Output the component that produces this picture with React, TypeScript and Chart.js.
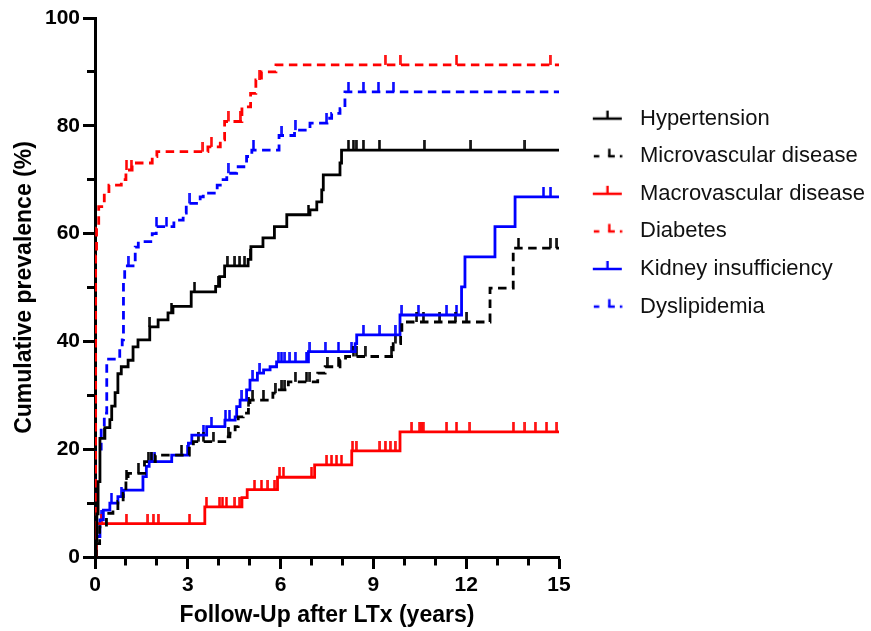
import React, { useEffect, useRef } from 'react';
import { Chart, registerables } from 'chart.js';

Chart.register(...registerables);

// ---------- data ----------
const seriesNames = [
  'Hypertension',
  'Microvascular disease',
  'Macrovascular disease',
  'Diabetes',
  'Kidney insufficiency',
  'Dyslipidemia',
];

const hypertensionTimes = [0, 0.03, 0.06, 0.1, 0.16, 0.32, 0.48, 0.54, 0.65, 0.74, 0.85, 1.07, 1.23, 1.39, 1.77, 2.04, 2.36, 2.52, 3.11, 3.9, 4.03, 4.19, 4.95, 5.04, 5.43, 5.8, 6.2, 6.95, 7.17, 7.33, 7.38, 7.92, 7.97, 15];
const hypertensionValues = [0, 3, 8, 14, 22, 24, 25.5, 28, 30.5, 34, 35.3, 36.5, 39, 40.3, 42.7, 44, 45.3, 46.5, 49.2, 50.2, 52, 54, 55.2, 57.6, 59.2, 61.3, 63.5, 64.4, 65.9, 68.1, 70.9, 73.1, 75.5, 75.5];
const hypertensionCensor = [0.3, 1.77, 2.47, 3.22, 3.98, 4.27, 4.52, 4.68, 4.84, 5.02, 6.9, 8.19, 8.35, 8.44, 8.67, 9.19, 10.64, 12.15, 13.9];

const microTimes = [0, 0.04, 0.15, 0.37, 0.58, 0.74, 0.91, 1.0, 1.07, 1.6, 1.95, 3.05, 3.18, 4.26, 4.36, 4.53, 4.63, 4.79, 4.96, 5.01, 5.75, 5.87, 6.25, 7.2, 7.44, 7.92, 8.1, 9.64, 9.88, 9.92, 12.77, 13.52, 15];
const microValues = [0, 2.5, 5.6, 8.1, 9, 10.3, 11.8, 14.3, 15.5, 17.7, 18.9, 20.5, 21.4, 22.3, 23, 24.2, 26, 26.7, 27.9, 29.1, 30.4, 31, 32.5, 34.1, 35.3, 36.5, 37.2, 39.6, 41.5, 43.6, 49.9, 57.3, 57.3];
const microCensor = [1.02, 1.4, 1.72, 1.82, 2.8, 3.33, 3.5, 3.82, 4.3, 4.97, 5.1, 5.44, 5.82, 6.04, 6.14, 6.47, 6.84, 6.95, 7.5, 7.87, 8.35, 8.46, 8.73, 9.59, 9.7, 10.4, 10.61, 11.15, 11.64, 12.02, 13.69, 14.71, 14.93];

const macroTimes = [0, 0.05, 3.55, 4.75, 4.92, 5.9, 7.1, 8.3, 9.86, 15];
const macroValues = [0, 6.2, 9.3, 11, 12.5, 14.8, 17.1, 19.7, 23.2, 23.2];
const macroCensor = [0.22, 1.01, 1.71, 1.88, 2.04, 3.06, 3.6, 4.03, 4.12, 4.25, 4.52, 4.68, 5.16, 5.38, 5.59, 5.81, 5.97, 6.09, 7.0, 7.49, 7.65, 7.81, 7.97, 8.33, 8.44, 9.21, 9.38, 9.54, 9.7, 10.24, 10.5, 10.56, 10.61, 11.37, 11.69, 12.12, 13.52, 13.9, 14.23, 14.6, 14.93];

const diabetesTimes = [0, 0.02, 0.05, 0.12, 0.3, 0.45, 0.85, 1.0, 1.2, 1.85, 2.0, 3.65, 4.05, 4.19, 4.75, 5.03, 5.2, 5.38, 5.85, 15];
const diabetesValues = [0, 56, 61, 65, 67.5, 69, 70, 71.8, 73.1, 74.3, 75.2, 76.1, 77.4, 80.8, 83.5, 86, 88.5, 90, 91.3, 91.3];
const diabetesCensor = [1.02, 1.17, 3.49, 3.76, 4.3, 4.69, 5.33, 9.38, 9.86, 11.69, 14.71];

const kidneyTimes = [0, 0.03, 0.16, 0.27, 0.48, 0.74, 0.92, 1.55, 1.66, 1.75, 2.48, 3.02, 3.13, 3.61, 4.2, 4.53, 4.58, 4.69, 4.9, 5.01, 5.25, 5.45, 5.66, 5.87, 6.9, 8.41, 8.46, 9.86, 11.85, 11.96, 12.93, 13.58, 15];
const kidneyValues = [0, 3.8, 6.9, 8.7, 10, 11.2, 12.4, 14.9, 16.8, 17.7, 18.9, 21.1, 22.6, 24.2, 25.4, 26, 27.9, 29.1, 31, 32.8, 34.1, 34.7, 35.3, 36.2, 38.1, 39.6, 41.2, 44.9, 50.1, 55.7, 61.3, 66.8, 66.8];
const kidneyCensor = [0.22, 0.53, 0.85, 1.82, 1.93, 3.0, 3.5, 3.76, 4.22, 4.35, 4.75, 5.1, 5.33, 5.92, 6.03, 6.14, 6.3, 6.47, 6.84, 6.95, 7.44, 7.87, 8.3, 8.67, 9.21, 9.7, 9.92, 10.45, 11.37, 11.69, 14.5, 14.73];

const dyslipTimes = [0, 0.01, 0.2, 0.3, 0.38, 0.8, 0.88, 0.92, 0.96, 1.3, 1.4, 1.85, 1.98, 2.55, 2.85, 2.95, 3.4, 3.5, 3.95, 4.05, 4.26, 4.58, 4.9, 5.07, 5.95, 6.45, 6.95, 7.5, 7.65, 7.92, 8.08, 15];
const dyslipValues = [0, 20, 24.2, 26.7, 36.7, 39, 40.3, 51.4, 54, 57.5, 58.5, 60, 61.3, 62.5, 63.8, 65.6, 66.8, 67.5, 69, 70, 71.2, 72.4, 74.3, 75.5, 78.2, 79.2, 80.5, 81.4, 82.3, 83.2, 86.3, 86.3];
const dyslipCensor = [1.07, 1.99, 2.31, 3.07, 4.3, 5.12, 6.04, 6.47, 7.49, 8.19, 8.67, 9.16, 9.64];

const xMajorTicks = [0, 3, 6, 9, 12, 15];
const yMajorTicks = [0, 20, 40, 60, 80, 100];
const xTitle = 'Follow-Up after LTx (years)';
const yTitle = 'Cumulative prevalence (%)';

// ---------- styles ----------
const RED = '#ff0000';
const BLUE = '#0000ff';
const BLACK = '#000000';
const FONT = "'Liberation Sans', Arial, Helvetica, sans-serif";

const seriesTimes = [hypertensionTimes, microTimes, macroTimes, diabetesTimes, kidneyTimes, dyslipTimes];
const seriesValues = [hypertensionValues, microValues, macroValues, diabetesValues, kidneyValues, dyslipValues];
const seriesCensor = [hypertensionCensor, microCensor, macroCensor, diabetesCensor, kidneyCensor, dyslipCensor];
const seriesColors = [BLACK, BLACK, RED, RED, BLUE, BLUE];
const seriesDashed = [false, true, false, true, false, true];

function stepValueAt(times: number[], values: number[], t: number) {
  let v = values[0];
  for (let i = 0; i < times.length; i++) {
    if (times[i] <= t) v = values[i];
  }
  return v;
}

function makeCensorTick(color: string) {
  const c = document.createElement('canvas');
  c.width = 3;
  c.height = 20;
  const g = c.getContext('2d')!;
  g.fillStyle = color;
  g.fillRect(0.25, 0, 2.5, 10);
  return c;
}

function makeLegendSymbol(color: string, dashed: boolean) {
  const c = document.createElement('canvas');
  c.width = 42;
  c.height = 20;
  const g = c.getContext('2d')!;
  g.fillStyle = color;
  const x0 = 12;
  if (!dashed) {
    g.fillRect(x0, 8.75, 29, 2.5);
    g.fillRect(x0 + 13.5, 2, 2.4, 8);
  } else {
    g.fillRect(x0 + 1, 8.75, 5.5, 2.5);
    g.fillRect(x0 + 15.3, 8.75, 6.7, 2.5);
    g.fillRect(x0 + 15.3, 2.5, 2.4, 7.5);
    g.fillRect(x0 + 27, 8.75, 2.4, 2.5);
  }
  return c;
}

export default function App() {
  const ref = useRef<HTMLCanvasElement>(null);

  useEffect(() => {
    const canvas = ref.current;
    if (!canvas) return;

    const lineSets = seriesNames.map((name, s) => ({
      label: name,
      data: seriesTimes[s].map((t, i) => ({ x: t, y: seriesValues[s][i] })),
      borderColor: seriesColors[s],
      backgroundColor: seriesColors[s],
      borderWidth: 2.8,
      borderDash: seriesDashed[s] ? [8.5, 5.5] : [],
      stepped: true,
      fill: false,
      tension: 0,
      pointRadius: 0,
      pointHoverRadius: 0,
      pointStyle: makeLegendSymbol(seriesColors[s], seriesDashed[s]),
      borderCapStyle: 'butt',
      borderJoinStyle: 'miter',
    }));

    const censorSets = seriesNames.map((name, s) => ({
      label: name + ' (censored)',
      data: seriesCensor[s].map((t) => ({ x: t, y: stepValueAt(seriesTimes[s], seriesValues[s], t) })),
      showLine: false,
      borderColor: seriesColors[s],
      backgroundColor: seriesColors[s],
      pointRadius: 5,
      pointHoverRadius: 5,
      pointStyle: makeCensorTick(seriesColors[s]),
    }));

    const lineCount = lineSets.length;

    const chart = new Chart(canvas, {
      type: 'line',
      data: { datasets: [...lineSets, ...censorSets] as any },
      options: {
        animation: false,
        responsive: false,
        devicePixelRatio: 1,
        events: [],
        layout: { padding: { top: 18, left: 0, right: 0, bottom: 0 } },
        font: { family: FONT },
        plugins: {
          tooltip: { enabled: false },
          legend: {
            display: true,
            position: 'right',
            align: 'start',
            maxWidth: 312,
            title: {
              display: true,
              text: '',
              font: { size: 10, family: FONT },
              padding: { top: 62, bottom: 0 },
            },
            labels: {
              usePointStyle: true,
              pointStyleWidth: 54.4,
              padding: 15.6,
              color: '#111111',
              textAlign: 'left',
              font: { size: 22, family: FONT },
              filter: (item: any) => item.datasetIndex < lineCount,
            },
          },
        },
        scales: {
          x: {
            type: 'linear',
            position: 'bottom',
            min: 0,
            max: 15,
            afterFit: (scale: any) => {
              scale.height = 74;
            },
            border: { display: true, width: 3, color: BLACK },
            grid: {
              display: true,
              drawOnChartArea: false,
              drawTicks: true,
              tickLength: 12,
              tickWidth: 3,
              tickColor: BLACK,
              tickBorderDash: (ctx: any) =>
                ctx.tick && xMajorTicks.includes(ctx.tick.value) ? [] : [6.5, 100],
            },
            ticks: {
              stepSize: 1,
              autoSkip: false,
              maxRotation: 0,
              padding: 4,
              color: BLACK,
              font: { size: 21, weight: 'bold', family: FONT },
              callback: (v: any) => (xMajorTicks.includes(Number(v)) ? String(v) : ''),
            },
            title: {
              display: true,
              text: xTitle,
              color: BLACK,
              font: { size: 23, weight: 'bold', family: FONT },
              padding: { top: 0, bottom: 2 },
            },
          },
          y: {
            type: 'linear',
            position: 'left',
            min: 0,
            max: 100,
            afterFit: (scale: any) => {
              scale.width = 95;
            },
            border: { display: true, width: 3, color: BLACK },
            grid: {
              display: true,
              drawOnChartArea: false,
              drawTicks: true,
              tickLength: 12,
              tickWidth: 3,
              tickColor: BLACK,
              tickBorderDash: (ctx: any) =>
                ctx.tick && yMajorTicks.includes(ctx.tick.value) ? [] : [0, 4, 8, 100],
            },
            ticks: {
              stepSize: 10,
              autoSkip: false,
              padding: 3,
              color: BLACK,
              font: { size: 21, weight: 'bold', family: FONT },
              callback: (v: any) => (yMajorTicks.includes(Number(v)) ? String(v) : ''),
            },
            title: {
              display: true,
              text: yTitle,
              color: BLACK,
              font: { size: 23, weight: 'bold', family: FONT },
              padding: { top: 11, bottom: 0 },
            },
          },
        },
      } as any,
    });

    return () => chart.destroy();
  }, []);

  return (
    <div
      style={{
        position: 'absolute',
        left: 0,
        top: 0,
        width: 871,
        height: 631,
        overflow: 'hidden',
        background: '#ffffff',
      }}
    >
      <canvas ref={ref} width={871} height={631} style={{ display: 'block' }} />
    </div>
  );
}
